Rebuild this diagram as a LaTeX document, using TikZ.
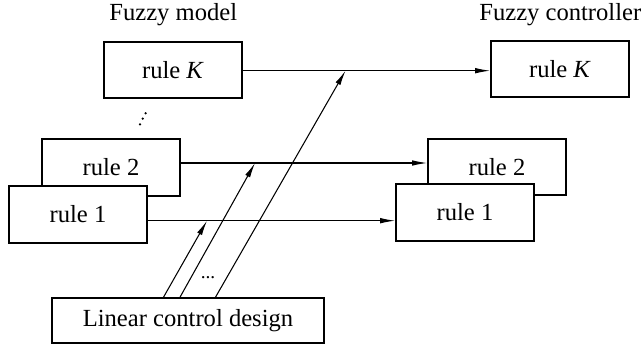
\documentclass[tikz,border=0pt]{standalone}
\usepackage{fontspec}
\setmainfont{Liberation Serif}
\usetikzlibrary{arrows.meta}

\tikzset{
  rulebox/.style={draw, fill=white, line width=0.9pt, minimum width=2.76cm,
    minimum height=1.13cm, inner sep=0pt},
  link/.style={line width=0.6pt, -{Latex[length=0.3cm,width=0.11cm]}}
}

\begin{document}
\begin{tikzpicture}[font=\fontsize{14}{16}\selectfont]
        \useasboundingbox (0,0) rectangle (12.84,6.9);

        \node[anchor=base west, inner sep=0pt] (model_title) at (2.18,6.48) {Fuzzy model};
        \node[anchor=base west, inner sep=0pt] (ctrl_title) at (9.58,6.48) {Fuzzy controller};

        % rule 2 first, so that rule 1 lies on top of it
        \node[rulebox] (model_K) at (3.46,5.5) {rule \textit{K}};
        \node[rulebox] (model_2) at (2.22,3.55) {rule 2};
        \node[rulebox] (model_1) at (1.56,2.61) {rule 1};

        \node[rulebox] (ctrl_K) at (11.2,5.52) {rule \textit{K}};
        \node[rulebox] (ctrl_2) at (9.94,3.56) {rule 2};
        \node[rulebox] (ctrl_1) at (9.3,2.65) {rule 1};

        \node[rulebox, minimum width=5.44cm, minimum height=0.9cm] (design) at (3.76,0.49) {Linear control design};

        % the rules in between
        \foreach \x/\y in {2.8/4.414, 2.854/4.526, 2.914/4.634}
            \fill (\x,\y) circle (0.025);

        \coordinate (j_1) at (4.14,2.486);
        \coordinate (j_2) at (5.1,3.64);
        \coordinate (j_K) at (6.91,5.486);

        \draw[link] (model_1.east |- j_1) -- (ctrl_1.west |- j_1);
        \draw[link] (model_2.east |- j_2) -- (ctrl_2.west |- j_2);
        \draw[link] (model_K.east |- j_K) -- (ctrl_K.west |- j_K);

        \draw[link] (3.27,0 |- design.north) -- (j_1);
        \draw[link] (3.6,0 |- design.north) -- (j_2);
        \draw[link] (4.31,0 |- design.north) -- (j_K);

        \node[anchor=base, font=\fontsize{11}{13}\selectfont] (more) at (4.16,1.32) {...};
\end{tikzpicture}
\end{document}
